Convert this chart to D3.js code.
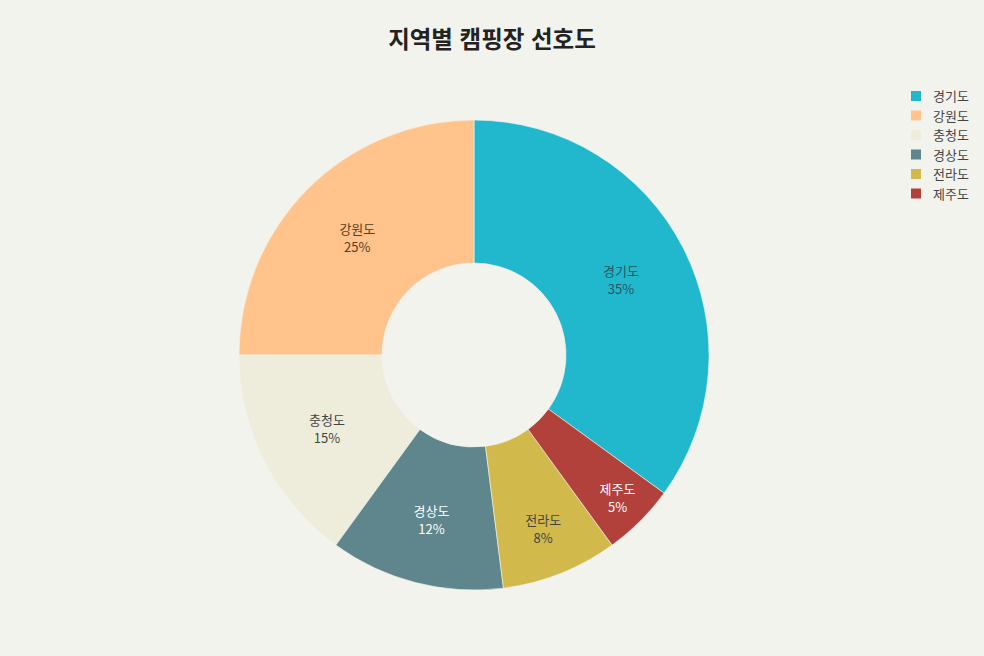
<!DOCTYPE html>
<html lang="ko">
<head>
<meta charset="UTF-8">
<title>지역별 캠핑장 선호도</title>
<script src="https://cdn.jsdelivr.net/npm/d3@7"></script>
<style>
	body{ margin:0; background:#f3f3ee; }
	svg{ display:block; font-family:"Noto Sans CJK KR","Noto Sans",sans-serif; }
</style>
</head>
<body>
<svg></svg>
<script>
// data
var regions = ["경기도", "강원도", "충청도", "경상도", "전라도", "제주도"];
var shares = [35, 25, 15, 12, 8, 5];
var colors = ["#21b8cd", "#ffc38b", "#eeeddc", "#5e868c", "#d2b94b", "#b2413c"];
var textColors = ["#2a5560", "#5a3c22", "#444444", "#ffffff", "#444444", "#ffffff"];
var title = "지역별 캠핑장 선호도";

var w = 984, h = 656,
	cx = 474, cy = 355,
	rOut = 235, rIn = 92;
// narrow slices push their label outward
var labelR = [165, 165, 165, 171, 188, 203];

var svg = d3.select("svg").attr("width", w).attr("height", h);

svg.append("rect").attr("width", w).attr("height", h).attr("fill", "#f3f3ee");

svg.append("text")
	.attr("x", w / 2).attr("y", 48)
	.attr("text-anchor", "middle")
	.attr("font-size", 23.5).attr("font-weight", "bold")
	.attr("fill", "#222")
	.text(title);

var total = d3.sum(shares);
var start = 2 * Math.PI * shares[0] / total;

// counter-clockwise, first slice ends at 12 o'clock
var pie = d3.pie().sort(null).value(d => d)
	.startAngle(start).endAngle(start - 2 * Math.PI);
var arc = d3.arc().innerRadius(rIn).outerRadius(rOut);
var arcs = pie(shares);

var g = svg.append("g").attr("transform", "translate(" + cx + "," + cy + ")");

g.selectAll("path")
	.data(arcs)
	.enter().append("path")
	.attr("d", arc)
	.attr("fill", (d, i) => colors[i])
	.attr("stroke", "#f3f3ee")
	.attr("stroke-width", 0.6);

var lab = g.selectAll("g.lab")
	.data(arcs)
	.enter().append("g")
	.attr("class", "lab")
	.attr("transform", (d, i) => {
		var a = (d.startAngle + d.endAngle) / 2;
		return "translate(" + (Math.sin(a) * labelR[i]) + "," + (-Math.cos(a) * labelR[i]) + ")";
	})
	.attr("text-anchor", "middle")
	.attr("font-size", 13)
	.attr("fill", (d, i) => textColors[i]);

lab.append("text").attr("y", -4.5).text((d, i) => regions[i]);
lab.append("text").attr("y", 13.5).text(d => Math.round(d.value / total * 100) + "%");

// legend
var leg = svg.append("g").attr("transform", "translate(911,96)");
var item = leg.selectAll("g")
	.data(regions)
	.enter().append("g")
	.attr("transform", (d, i) => "translate(0," + (i * 19.5) + ")");
item.append("rect")
	.attr("x", 0).attr("y", -5).attr("width", 10).attr("height", 10)
	.attr("fill", (d, i) => colors[i]);
item.append("text")
	.attr("x", 22).attr("y", 5)
	.attr("font-size", 13).attr("fill", "#444")
	.text(d => d);
</script>
</body>
</html>
